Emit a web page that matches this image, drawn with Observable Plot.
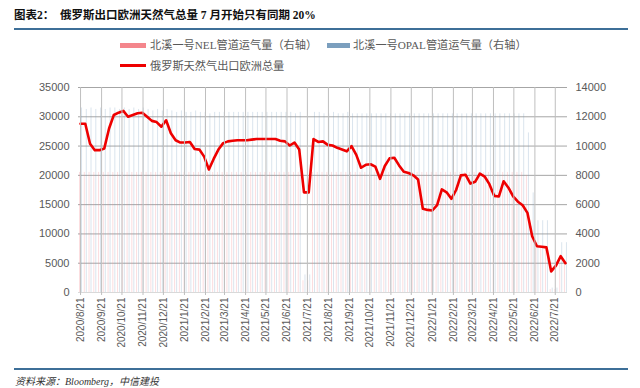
<!DOCTYPE html>
<html><head><meta charset="utf-8">
<script src="https://cdn.jsdelivr.net/npm/d3@7"></script>
<script src="https://cdn.jsdelivr.net/npm/@observablehq/plot@0.6"></script>
<style>
body{margin:0;width:640px;height:388px;background:#fff;position:relative;overflow:hidden;font-family:"Liberation Serif","Noto Sans CJK SC",serif;}
#title{position:absolute;left:14px;top:6px;font-size:11.5px;font-weight:bold;color:#111;white-space:nowrap;font-family:"Liberation Serif","Noto Sans CJK SC",serif;}
.rule{position:absolute;left:14px;width:614px;height:2px;background:#3d6f98;}
.leg{position:absolute;font-size:11.2px;color:#595959;white-space:nowrap;font-family:"Liberation Serif","Noto Sans CJK SC",serif;line-height:14px;}
.sw{position:absolute;}
#caption{position:absolute;left:15px;top:373px;font-size:10px;font-style:italic;color:#333;white-space:nowrap;font-family:"Liberation Serif","Noto Sans CJK SC",serif;}
#chart{position:absolute;left:0;top:78px;}
</style></head>
<body>
<div id="title">图表2：&nbsp;&nbsp;俄罗斯出口欧洲天然气总量 7 月开始只有同期 20%</div>
<div class="rule" style="top:28px"></div>
<div class="sw" style="left:120px;top:43px;width:26px;height:5px;background:#f4868c"></div>
<div class="leg" style="left:150px;top:38px">北溪一号NEL管道运气量（右轴）</div>
<div class="sw" style="left:327px;top:43px;width:23px;height:5px;background:#7b9fbe"></div>
<div class="leg" style="left:353px;top:38px">北溪一号OPAL管道运气量（右轴）</div>
<div class="sw" style="left:120px;top:64px;width:26px;height:3px;background:#ee0000"></div>
<div class="leg" style="left:150px;top:59px">俄罗斯天然气出口欧洲总量</div>
<div id="chart"></div>
<div class="rule" style="top:368px"></div>
<div id="caption">资料来源：Bloomberg，中信建投</div>
<script>
// weekly series starting 2020/8/21
const startDate = "2020-08-21";
const total = [28800,28800,25400,24300,24300,24600,28000,30300,30700,31000,
30000,30300,30600,30700,30000,29300,29100,28300,29400,27200,
26000,25600,25600,25700,24500,24400,23200,21000,22800,24400,
25500,25800,25900,26000,26000,26000,26100,26200,26200,26200,
26200,26200,25900,25800,25100,25600,24400,17100,17100,26200,
25700,25800,25200,25100,24700,24400,24100,25000,23500,21300,
21800,21900,21500,19400,21600,22900,23000,21700,20600,20400,
20000,19300,14300,14100,14000,14900,17600,17100,16000,17500,
20000,20100,18600,18900,20300,19800,18500,16500,16400,19000,
17900,16400,15500,14900,13600,9600,7900,7800,7700,3600,
4600,6200,5000];
const opal = [12600,12500,12600,12500,12600,12500,12600,12600,12500,12600,
12500,12600,12500,12600,12500,12400,12500,12400,12500,12400,
12300,12400,12300,12300,12400,12300,12300,12200,12300,12300,
12300,12300,12300,12300,12300,12300,12300,12300,12300,12300,
12300,12300,12300,12300,12300,12200,12300,1200,1200,12300,
12300,12200,12200,12300,12200,12200,12300,12200,12200,12200,
12200,12200,12200,12200,12200,12200,12200,12200,12200,12200,
12200,12200,12200,12200,12200,12200,12200,12200,12200,12200,
12200,12200,12200,12200,12200,12200,12200,12200,12200,12200,
12200,12200,12200,12200,10900,6800,4900,4900,4900,300,
300,3400,3400];
const nel = [8200,8200,8200,8200,8200,8200,8200,8200,8200,8200,
8200,8200,8200,8200,8200,8200,8200,8200,8200,8200,
8200,8200,8200,8200,8200,8200,8200,8200,8200,8200,
8200,8200,8200,8200,8200,8200,8200,8200,8200,8200,
8200,8200,8200,8200,8200,8200,8200,800,800,8200,
8200,8200,8200,8200,8200,8200,8200,8200,8200,8200,
8200,8200,8200,8200,8200,8200,8200,8200,8200,8200,
8200,8200,8200,8200,8200,8200,8200,8200,8200,8200,
8200,8200,8200,8200,8200,8200,8200,8200,8200,8200,
8200,8200,8200,8200,8000,4500,3000,3000,3000,200,
200,2000,2000];
const xTickLabels = ["2020/8/21","2020/9/21","2020/10/21","2020/11/21","2020/12/21","2021/1/21","2021/2/21","2021/3/21","2021/4/21","2021/5/21","2021/6/21","2021/7/21","2021/8/21","2021/9/21","2021/10/21","2021/11/21","2021/12/21","2022/1/21","2022/2/21","2022/3/21","2022/4/21","2022/5/21","2022/6/21","2022/7/21"];
const leftTicks = [0,5000,10000,15000,20000,25000,30000,35000];
const rightTicks = [0,2000,4000,6000,8000,10000,12000,14000];

const R = 35000/14000;
const parse = d3.utcParse("%Y/%m/%d");
const t0 = d3.utcParse("%Y-%m-%d")(startDate);
const rows = total.map((v,i)=>({date:d3.utcDay.offset(t0,7*i), total:v, nel:nel[i]*R, opal:opal[i]*R}));
const tickDates = xTickLabels.map(s=>parse(s));
const fmt = d3.utcFormat("%Y/%-m/%-d");

const chart = Plot.plot({
  width:640, height:284,
  marginLeft:78, marginRight:73, marginTop:9, marginBottom:70,
  x:{type:"utc", domain:[d3.utcDay.offset(t0,-3), d3.utcDay.offset(t0,717)]},
  y:{domain:[0,35000]},
  style:{fontFamily:"'Liberation Sans', Arial, sans-serif", fontSize:"11px", color:"#595959", background:"#fff", overflow:"visible"},
  marks:[
    Plot.ruleY(leftTicks.slice(1), {stroke:"#a6a6a6", strokeWidth:1}),
    Plot.ruleX(rows, {x:"date", y1:0, y2:"nel", stroke:"#f4868c", strokeOpacity:0.28, strokeWidth:1, dx:-1}),
    Plot.ruleX(rows, {x:"date", y1:0, y2:"opal", stroke:"#7b9fbe", strokeOpacity:0.28, strokeWidth:1, dx:1}),
    Plot.ruleY([0], {stroke:"#d9d9d9"}),
    Plot.lineY(rows, {x:"date", y:"total", stroke:"#ee0000", strokeWidth:2.6, strokeLinejoin:"round"}),
    Plot.axisY(leftTicks, {anchor:"left", tickSize:0, tickPadding:9, tickFormat:d=>String(d), label:null}),
    Plot.axisY(rightTicks.map(v=>v*R), {anchor:"right", tickSize:0, tickPadding:8, tickFormat:d=>String(Math.round(d/R)), label:null}),
    Plot.tickX(tickDates, {x:d=>d, y1:0, y2:0, stroke:"#bfbfbf", insetBottom:-3}),
    Plot.axisX(tickDates, {anchor:"bottom", tickRotate:-90, tickSize:0, tickPadding:5, tickFormat:fmt, fontSize:10, label:null})
  ]
});
document.getElementById("chart").appendChild(chart);
</script>
</body></html>
